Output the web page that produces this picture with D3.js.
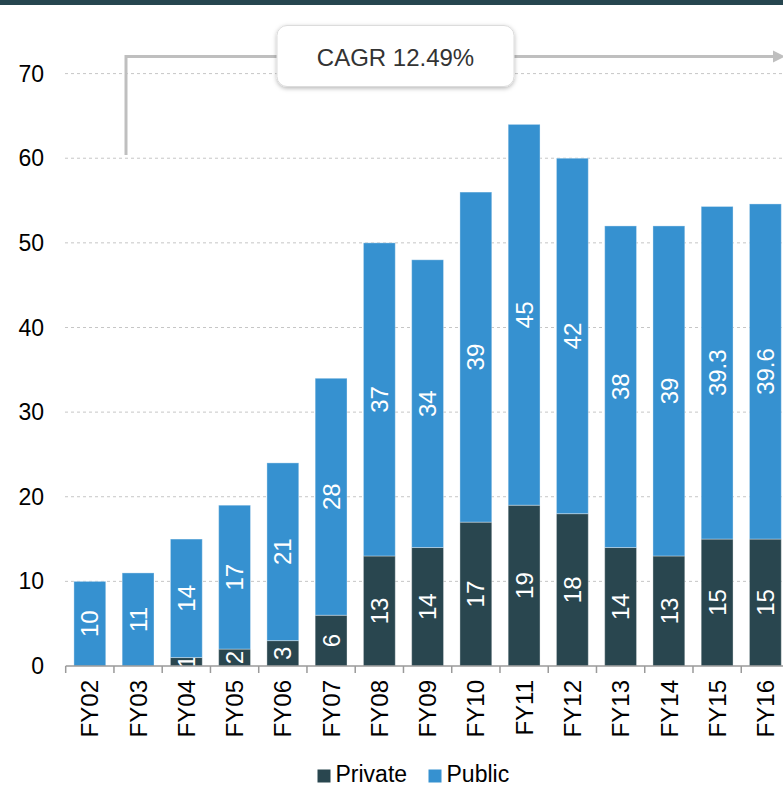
<!DOCTYPE html>
<html>
<head>
<meta charset="utf-8">
<script src="https://cdnjs.cloudflare.com/ajax/libs/d3/7.8.5/d3.min.js"></script>
<style>
  html, body { margin: 0; padding: 0; background: #fff; }
  svg { display: block; font-family: "Liberation Sans", Arial, sans-serif; }
</style>
</head>
<body>
<svg id="chart" width="783" height="786"></svg>
<script>
// Fiscal years on the category axis
const categories = ["FY02","FY03","FY04","FY05","FY06","FY07","FY08","FY09","FY10","FY11","FY12","FY13","FY14","FY15","FY16"];
// Stacked series values
const privateValues = [0, 0, 1, 2, 3, 6, 13, 14, 17, 19, 18, 14, 13, 15, 15];
const publicValues  = [10, 11, 14, 17, 21, 28, 37, 34, 39, 45, 42, 38, 39, 39.3, 39.6];
const seriesNames = ["Private", "Public"];
const yTickValues = [0, 10, 20, 30, 40, 50, 60, 70];
const cagrText = "CAGR 12.49%";

const colors = { Private: "#29464f", Public: "#3691d0" };
const W = 783, H = 786;
const svg = d3.select("#chart");

const defs = svg.append("defs");
defs.append("filter").attr("id", "shadow").attr("x", "-10%").attr("y", "-20%").attr("width", "120%").attr("height", "150%")
  .append("feDropShadow").attr("dx", 0).attr("dy", 1.5).attr("stdDeviation", 2)
  .attr("flood-color", "#000").attr("flood-opacity", 0.28);
defs.append("marker").attr("id", "arrow").attr("viewBox", "0 0 10 10")
  .attr("refX", 0).attr("refY", 5).attr("markerWidth", 4).attr("markerHeight", 6)
  .attr("markerUnits", "strokeWidth").attr("orient", "auto")
  .append("path").attr("d", "M0,0 L10,5 L0,10 Z").attr("fill", "#bfbfbf");

// Header strip
svg.append("rect").attr("x", 0).attr("y", 0).attr("width", W).attr("height", 5).attr("fill", "#26464f");

const x = d3.scaleBand().domain(categories).range([65.7, 789.5]).paddingInner(0.34).paddingOuter(0.17);
const y = d3.scaleLinear().domain([0, 70]).range([666, 73.6]);

// Gridlines
svg.append("g").selectAll("line").data(yTickValues.filter(v => v > 0)).join("line")
  .attr("x1", 65).attr("x2", W).attr("y1", d => y(d)).attr("y2", d => y(d))
  .attr("stroke", "#c6c6c6").attr("stroke-width", 1).attr("stroke-dasharray", "3,3");

// Y tick labels
svg.append("g").selectAll("text").data(yTickValues).join("text")
  .attr("x", 44).attr("y", d => y(d)).attr("dy", "0.35em")
  .attr("text-anchor", "end").attr("font-size", 23).attr("fill", "#000")
  .text(d => d);

const rows = categories.map((c, i) => ({ cat: c, Private: privateValues[i], Public: publicValues[i] }));
const stacked = d3.stack().keys(seriesNames)(rows);

// Stacked bars with value labels clipped to their own segment
const barsG = svg.append("g");
stacked.forEach(layer => {
  const key = layer.key;
  const values = key === "Private" ? privateValues : publicValues;
  layer.forEach((seg, i) => {
    const val = seg[1] - seg[0];
    if (val <= 0) return;
    const bx = x(categories[i]), bw = x.bandwidth();
    const y0 = y(seg[0]), y1 = y(seg[1]);
    const id = "clip-" + key + "-" + i;
    defs.append("clipPath").attr("id", id).append("rect")
      .attr("x", bx).attr("y", y1).attr("width", bw).attr("height", y0 - y1);
    barsG.append("rect")
      .attr("x", bx).attr("y", y1).attr("width", bw).attr("height", y0 - y1)
      .attr("fill", colors[key]).attr("stroke", "rgba(255,255,255,0.35)").attr("stroke-width", 1);
    const cx = bx + bw / 2, cy = (y0 + y1) / 2;
    barsG.append("g").attr("clip-path", "url(#" + id + ")")
      .append("text")
      .attr("transform", `translate(${cx},${cy}) rotate(-90)`)
      .attr("text-anchor", "middle").attr("dy", "0.36em")
      .attr("font-size", 24).attr("fill", "#fff")
      .text(values[i]);
  });
});

// Category axis
const axisY = y(0);
const step = x.step();
const x0 = x.range()[0];
const axisG = svg.append("g");
axisG.append("line").attr("x1", x0).attr("x2", W).attr("y1", axisY).attr("y2", axisY)
  .attr("stroke", "#9a9a9a").attr("stroke-width", 1.5);
axisG.selectAll("line.tick").data(d3.range(categories.length + 1)).join("line")
  .attr("class", "tick")
  .attr("x1", i => x0 + i * step).attr("x2", i => x0 + i * step)
  .attr("y1", axisY).attr("y2", axisY + 7)
  .attr("stroke", "#9a9a9a").attr("stroke-width", 1.5);
axisG.selectAll("text").data(categories).join("text")
  .attr("transform", d => `translate(${x(d) + x.bandwidth() / 2},680) rotate(-90)`)
  .attr("text-anchor", "end").attr("dy", "0.36em")
  .attr("font-size", 24).attr("fill", "#000")
  .text(d => d);

// CAGR growth annotation
svg.append("path")
  .attr("d", "M126,155 L126,56.5 L773,56.5")
  .attr("fill", "none").attr("stroke", "#bfbfbf").attr("stroke-width", 3)
  .attr("marker-end", "url(#arrow)");
svg.append("rect").attr("x", 277).attr("y", 25.5).attr("width", 237).attr("height", 61).attr("rx", 10)
  .attr("fill", "#fff").attr("stroke", "#dcdcdc").attr("stroke-width", 1).attr("filter", "url(#shadow)");
svg.append("text").attr("x", 395.5).attr("y", 65.5).attr("text-anchor", "middle")
  .attr("font-size", 24).attr("fill", "#333").text(cagrText);

// Legend
const legend = svg.append("g");
const legendItems = [{ name: "Private", x: 317.5 }, { name: "Public", x: 428.5 }];
legend.selectAll("rect").data(legendItems).join("rect")
  .attr("x", d => d.x).attr("y", 769.5).attr("width", 13).attr("height", 13)
  .attr("fill", d => colors[d.name]);
legend.selectAll("text").data(legendItems).join("text")
  .attr("x", d => d.x + 18).attr("y", 782).attr("font-size", 23).attr("fill", "#000")
  .text(d => d.name);
</script>
</body>
</html>
